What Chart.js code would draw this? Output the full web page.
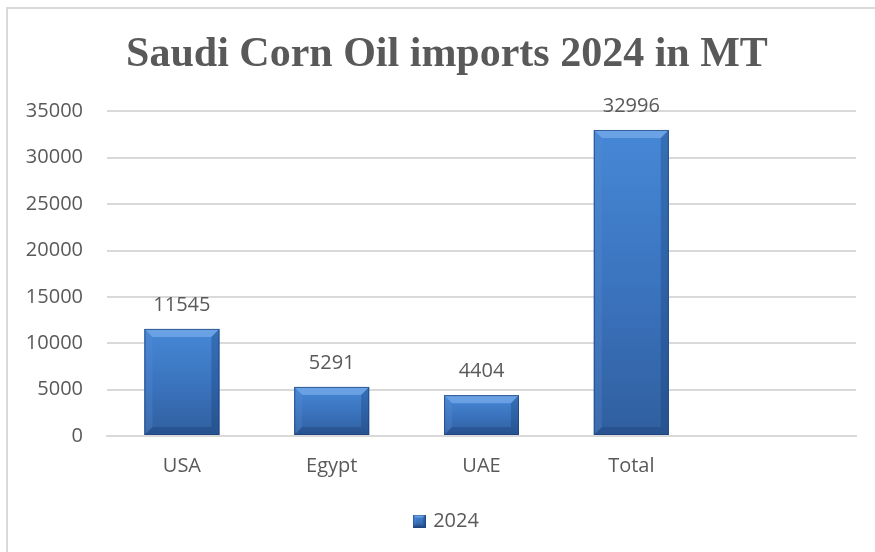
<!DOCTYPE html>
<html>
<head>
<meta charset="utf-8">
<script src="https://cdn.jsdelivr.net/npm/chart.js@4.4.1/dist/chart.umd.min.js"></script>
<style>
    html, body { margin: 0; padding: 0; background: #fff; overflow: hidden; }
    #wrap { position: absolute; left: 0; top: 0; width: 875px; height: 552px; }
    #frame { position: absolute; left: 6px; top: 7px; width: 869px; height: 545px;
             border-left: 2px solid #d9d9d9; border-top: 2px solid #d9d9d9; box-sizing: border-box; }
    canvas { position: absolute; left: 0; top: 0; }
</style>
</head>
<body>
<div id="wrap">
    <div id="frame"></div>
    <canvas id="cornOilChart" width="875" height="552"></canvas>
</div>
<script>
const countries = ["USA", "Egypt", "UAE", "Total", ""];
const imports2024 = [11545, 5291, 4404, 32996, null];
const seriesName = "2024";
const chartTitle = "Saudi Corn Oil imports 2024 in MT";

const textGray = "#595959";

// draws one bevelled blue bar (used for the bars and the legend swatch)
function drawBevelBar(ctx, left, top, w, h, bevel) {
    const g = ctx.createLinearGradient(0, top, 0, top + h);
    g.addColorStop(0, "#4688d6");
    g.addColorStop(0.5, "#3b74bf");
    g.addColorStop(1, "#305f9f");
    ctx.fillStyle = g;
    ctx.fillRect(left, top, w, h);

    const b = Math.min(bevel, w / 2, h / 2);
    const r = left + w, bt = top + h;
    // top facet
    ctx.fillStyle = "rgba(130, 180, 240, 0.6)";
    ctx.beginPath();
    ctx.moveTo(left, top); ctx.lineTo(r, top); ctx.lineTo(r - b, top + b); ctx.lineTo(left + b, top + b);
    ctx.closePath(); ctx.fill();
    // left facet
    ctx.fillStyle = "rgba(90, 140, 210, 0.3)";
    ctx.beginPath();
    ctx.moveTo(left, top); ctx.lineTo(left + b, top + b); ctx.lineTo(left + b, bt - b); ctx.lineTo(left, bt);
    ctx.closePath(); ctx.fill();
    // right facet
    ctx.fillStyle = "rgba(20, 55, 110, 0.3)";
    ctx.beginPath();
    ctx.moveTo(r, top); ctx.lineTo(r - b, top + b); ctx.lineTo(r - b, bt - b); ctx.lineTo(r, bt);
    ctx.closePath(); ctx.fill();
    // bottom facet
    ctx.fillStyle = "rgba(15, 45, 95, 0.25)";
    ctx.beginPath();
    ctx.moveTo(left, bt); ctx.lineTo(left + b, bt - b); ctx.lineTo(r - b, bt - b); ctx.lineTo(r, bt);
    ctx.closePath(); ctx.fill();

    ctx.strokeStyle = "rgba(30, 65, 120, 0.7)";
    ctx.lineWidth = 1;
    ctx.strokeRect(left + 0.5, top + 0.5, w - 1, h - 1);
}

// legend swatch
const swatch = document.createElement("canvas");
swatch.width = 13;
swatch.height = 13;
drawBevelBar(swatch.getContext("2d"), 0, 0, 13, 13, 3);

const bevelBars = {
    id: "bevelBars",
    afterDatasetsDraw(chart) {
        const ctx = chart.ctx;
        const meta = chart.getDatasetMeta(0);
        ctx.save();
        meta.data.forEach((bar, i) => {
            if (imports2024[i] == null) return;
            const p = bar.getProps(["x", "y", "base", "width"], true);
            drawBevelBar(ctx, p.x - p.width / 2, p.y, p.width, p.base - p.y, 8);
        });
        ctx.restore();
    }
};

const valueLabels = {
    id: "valueLabels",
    afterDatasetsDraw(chart) {
        const ctx = chart.ctx;
        const meta = chart.getDatasetMeta(0);
        ctx.save();
        ctx.font = "20px 'Open Sans'";
        ctx.fillStyle = textGray;
        ctx.textAlign = "center";
        ctx.textBaseline = "middle";
        meta.data.forEach((bar, i) => {
            if (imports2024[i] == null) return;
            ctx.fillText(String(imports2024[i]), bar.x, bar.y - 24);
        });
        ctx.restore();
    }
};

// the y axis box is kept narrow so title/legend sit centred like the original;
// widen it again after layout so its labels are not clipped
const unclipY = {
    id: "unclipY",
    afterLayout(chart) {
        chart.scales.y.left = 0;
    }
};

const ctx = document.getElementById("cornOilChart").getContext("2d");

new Chart(ctx, {
    type: "bar",
    data: {
        labels: countries,
        datasets: [{
            label: seriesName,
            data: imports2024,
            backgroundColor: "#3b74bf",
            borderWidth: 0,
            categoryPercentage: 0.5,
            barPercentage: 1.0
        }]
    },
    options: {
        responsive: false,
        animation: false,
        layout: {
            padding: { left: 38, right: 19, top: 0, bottom: 11 }
        },
        plugins: {
            title: {
                display: true,
                text: chartTitle,
                color: textGray,
                font: { family: "'Liberation Serif', 'Times New Roman', serif", size: 42, weight: "bold" },
                padding: { top: 30, bottom: 31 }
            },
            legend: {
                position: "bottom",
                labels: {
                    usePointStyle: true,
                    pointStyle: swatch,
                    pointStyleWidth: 8,
                    color: textGray,
                    font: { family: "'Open Sans'", size: 20 },
                    padding: 10
                }
            },
            tooltip: { enabled: false }
        },
        scales: {
            x: {
                grid: { display: false, drawTicks: false },
                border: { display: true, color: "#d9d9d9", width: 2 },
                ticks: {
                    color: textGray,
                    font: { family: "'Open Sans'", size: 20 },
                    padding: 18,
                    maxRotation: 0
                },
                afterFit: scale => { scale.height += 5; }
            },
            y: {
                min: 0,
                max: 35000,
                grid: { color: "#d9d9d9", lineWidth: 2, drawTicks: false },
                border: { display: false },
                ticks: {
                    stepSize: 5000,
                    color: textGray,
                    font: { family: "'Open Sans'", size: 20 },
                    padding: 24,
                    callback: value => String(value)
                },
                afterFit: scale => { scale.width = 69; }
            }
        }
    },
    plugins: [bevelBars, valueLabels, unclipY]
});
</script>
</body>
</html>
